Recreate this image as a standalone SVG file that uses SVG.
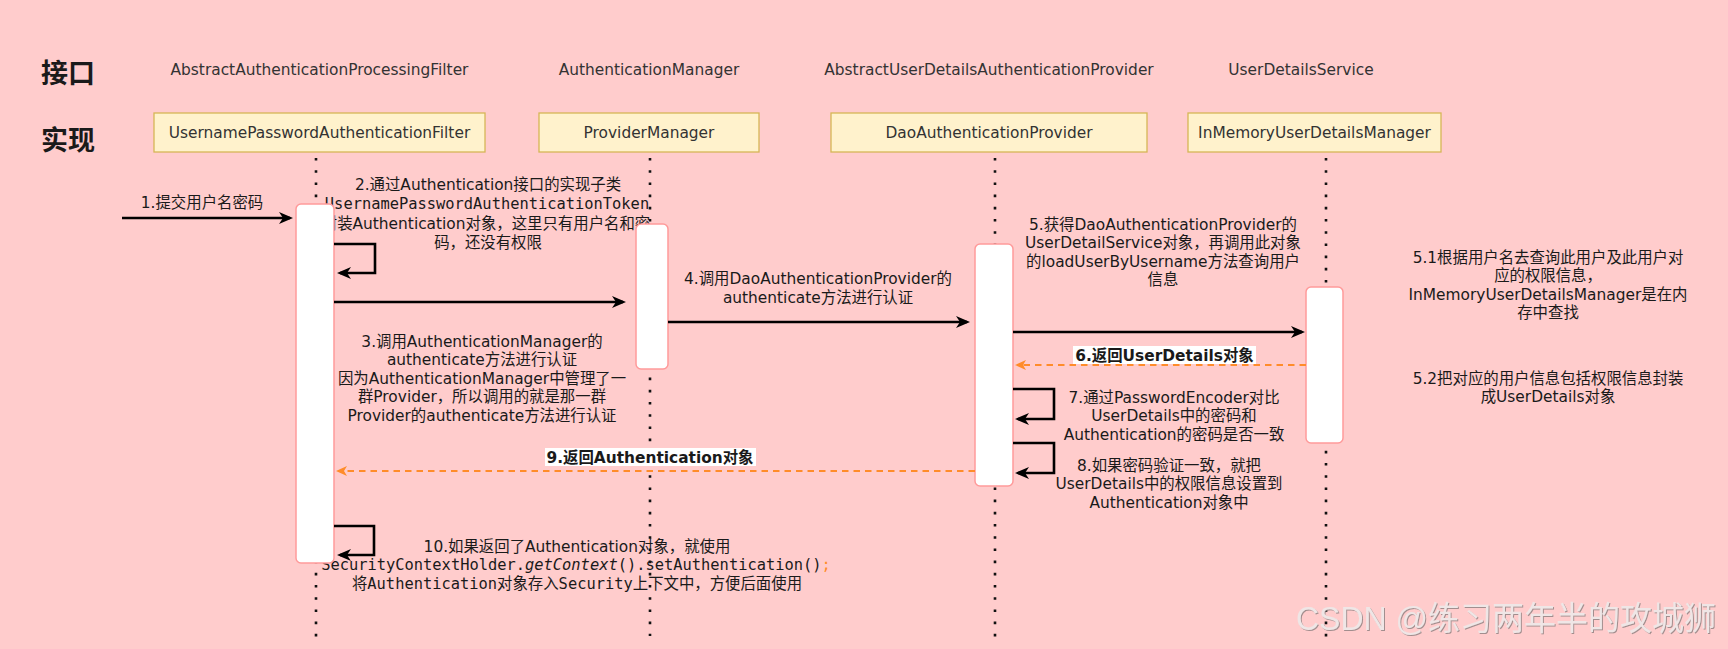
<svg xmlns="http://www.w3.org/2000/svg" width="1728" height="649" viewBox="0 0 1728 649">
<defs>
<style>
.t{font-family:"DejaVu Sans","Noto Sans CJK SC",sans-serif;font-size:15.4px;fill:#1a1a1a;text-anchor:middle}
.m{font-family:"DejaVu Sans Mono","Noto Sans CJK SC",monospace;font-size:15.4px;fill:#1a1a1a;text-anchor:middle}
.hdr{fill:#333}
.side{font-family:"DejaVu Sans","Noto Sans CJK SC",sans-serif;font-size:27px;font-weight:bold;fill:#1a1a1a}
.b{font-weight:bold}
.box{fill:#fff2cc;stroke:#d6b656;stroke-width:1.3}
.act{fill:#ffffff;stroke:#ff9a9a;stroke-width:1.5}
.life{stroke:#111;stroke-width:2.6;stroke-dasharray:2.6 9.6;fill:none}
.msg{stroke:#000;stroke-width:2.6;fill:none;marker-end:url(#ah)}
.ret{stroke:#ff8c2a;stroke-width:2;stroke-dasharray:6.5 5;fill:none;marker-end:url(#ahr)}
.lbg{fill:#ffffff}
.wm{font-family:"Liberation Sans","Noto Sans CJK SC",sans-serif;font-size:33px;fill:#efe6e6}
</style>
<marker id="ah" markerUnits="userSpaceOnUse" markerWidth="16" markerHeight="14" refX="11" refY="6" orient="auto"><path d="M0,0 L14,6 L0,12 L4,6 Z" fill="#000"/></marker>
<marker id="ahr" markerUnits="userSpaceOnUse" markerWidth="13" markerHeight="12" refX="8" refY="5" orient="auto"><path d="M0,0 L11,5 L0,10 L3,5 Z" fill="#ff8c2a"/></marker>
<filter id="wmf" x="-5%" y="-20%" width="110%" height="140%"><feDropShadow dx="1" dy="1" stdDeviation="0.6" flood-color="#8a7f7f" flood-opacity="0.8"/></filter>
</defs>
<rect x="0" y="0" width="1728" height="649" fill="#ffcccc"/>

<g id="side-labels">
<text class="side" x="41" y="83">接口</text>
<text class="side" x="41" y="150">实现</text>
</g>

<g id="notes">
<text class="t" x="202" y="207.5">1.提交用户名密码</text>
<text class="t" x="488" y="190">2.通过Authentication接口的实现子类</text>
<text class="m" x="487" y="209">UsernamePasswordAuthenticationToken</text>
<text class="t" x="486" y="228.5">封装Authentication对象，这里只有用户名和密</text>
<text class="t" x="488" y="247.5">码，还没有权限</text>
<text class="t" x="482" y="346.5">3.调用AuthenticationManager的</text>
<text class="t" x="482" y="365">authenticate方法进行认证</text>
<text class="t" x="482" y="383.5">因为AuthenticationManager中管理了一</text>
<text class="t" x="482" y="402">群Provider，所以调用的就是那一群</text>
<text class="t" x="482" y="420.5">Provider的authenticate方法进行认证</text>
<text class="t" x="818" y="284">4.调用DaoAuthenticationProvider的</text>
<text class="t" x="818" y="302.5">authenticate方法进行认证</text>
<text class="t" x="1163" y="229.5">5.获得DaoAuthenticationProvider的</text>
<text class="t" x="1163" y="248">UserDetailService对象，再调用此对象</text>
<text class="t" x="1163" y="266.5">的loadUserByUsername方法查询用户</text>
<text class="t" x="1163" y="285">信息</text>
<text class="t" x="1548" y="262.5">5.1根据用户名去查询此用户及此用户对</text>
<text class="t" x="1548" y="281">应的权限信息，</text>
<text class="t" x="1548" y="299.5">InMemoryUserDetailsManager是在内</text>
<text class="t" x="1548" y="318">存中查找</text>
<text class="t" x="1548" y="383.5">5.2把对应的用户信息包括权限信息封装</text>
<text class="t" x="1548" y="402">成UserDetails对象</text>
<text class="t" x="1174" y="402.5">7.通过PasswordEncoder对比</text>
<text class="t" x="1174" y="421">UserDetails中的密码和</text>
<text class="t" x="1174" y="439.5">Authentication的密码是否一致</text>
<text class="t" x="1169" y="470.5">8.如果密码验证一致，就把</text>
<text class="t" x="1169" y="489">UserDetails中的权限信息设置到</text>
<text class="t" x="1169" y="507.5">Authentication对象中</text>
<text class="t" x="577" y="551.5">10.如果返回了Authentication对象，就使用</text>
<text class="m" x="576" y="570">SecurityContextHolder.<tspan font-style="italic">getContext</tspan>().setAuthentication()<tspan fill="#ff8c2a">;</tspan></text>
<text class="m" x="577" y="588.5">将Authentication对象存入Security上下文中，方便后面使用</text>
</g>

<g id="node-filter">
<text class="t hdr" x="319.5" y="75">AbstractAuthenticationProcessingFilter</text>
<rect class="box" x="154" y="113" width="331" height="39"/>
<text class="t hdr" x="319.5" y="137.5">UsernamePasswordAuthenticationFilter</text>
<line class="life" x1="316" y1="158" x2="316" y2="645"/>
<rect class="act" x="296" y="204" width="38" height="359" rx="5"/>
</g>

<g id="node-manager">
<text class="t hdr" x="649" y="75">AuthenticationManager</text>
<rect class="box" x="539" y="113" width="220" height="39"/>
<text class="t hdr" x="649" y="137.5">ProviderManager</text>
<line class="life" x1="650" y1="158" x2="650" y2="636"/>
<rect class="act" x="636" y="224" width="32" height="145" rx="5"/>
</g>

<g id="node-provider">
<text class="t hdr" x="989" y="75">AbstractUserDetailsAuthenticationProvider</text>
<rect class="box" x="831" y="113" width="316" height="39"/>
<text class="t hdr" x="989" y="137.5">DaoAuthenticationProvider</text>
<line class="life" x1="995" y1="158" x2="995" y2="640"/>
<rect class="act" x="975" y="244" width="38" height="242" rx="5"/>
</g>

<g id="node-userdetails">
<text class="t hdr" x="1301" y="75">UserDetailsService</text>
<rect class="box" x="1188" y="113" width="253" height="39"/>
<text class="t hdr" x="1314.5" y="137.5">InMemoryUserDetailsManager</text>
<line class="life" x1="1326" y1="158" x2="1326" y2="640"/>
<rect class="act" x="1306" y="287" width="37" height="156" rx="5"/>
</g>

<g id="connectors">
<path class="msg" d="M122,218 H290"/>
<path class="msg" d="M334,244 H375 V273 H340"/>
<path class="msg" d="M334,302 H623"/>
<path class="msg" d="M668,322 H967"/>
<path class="msg" d="M1013,332 H1302"/>
<path class="ret" d="M1306,365 H1018"/>
<path class="msg" d="M1013,389 H1054 V419 H1018"/>
<path class="msg" d="M1013,443 H1054 V473 H1018"/>
<path class="ret" d="M975,471 H339"/>
<path class="msg" d="M334,526 H374 V555 H340"/>
<rect class="lbg" x="1073" y="346" width="183" height="18"/>
<text class="t b" x="1164.5" y="360.5">6.返回UserDetails对象</text>
<rect class="lbg" x="545" y="448" width="211" height="18"/>
<text class="t b" x="650" y="462.5">9.返回Authentication对象</text>
</g>

<text class="wm" x="1296" y="630" textLength="420" lengthAdjust="spacingAndGlyphs" filter="url(#wmf)">CSDN @练习两年半的攻城狮</text>
</svg>
